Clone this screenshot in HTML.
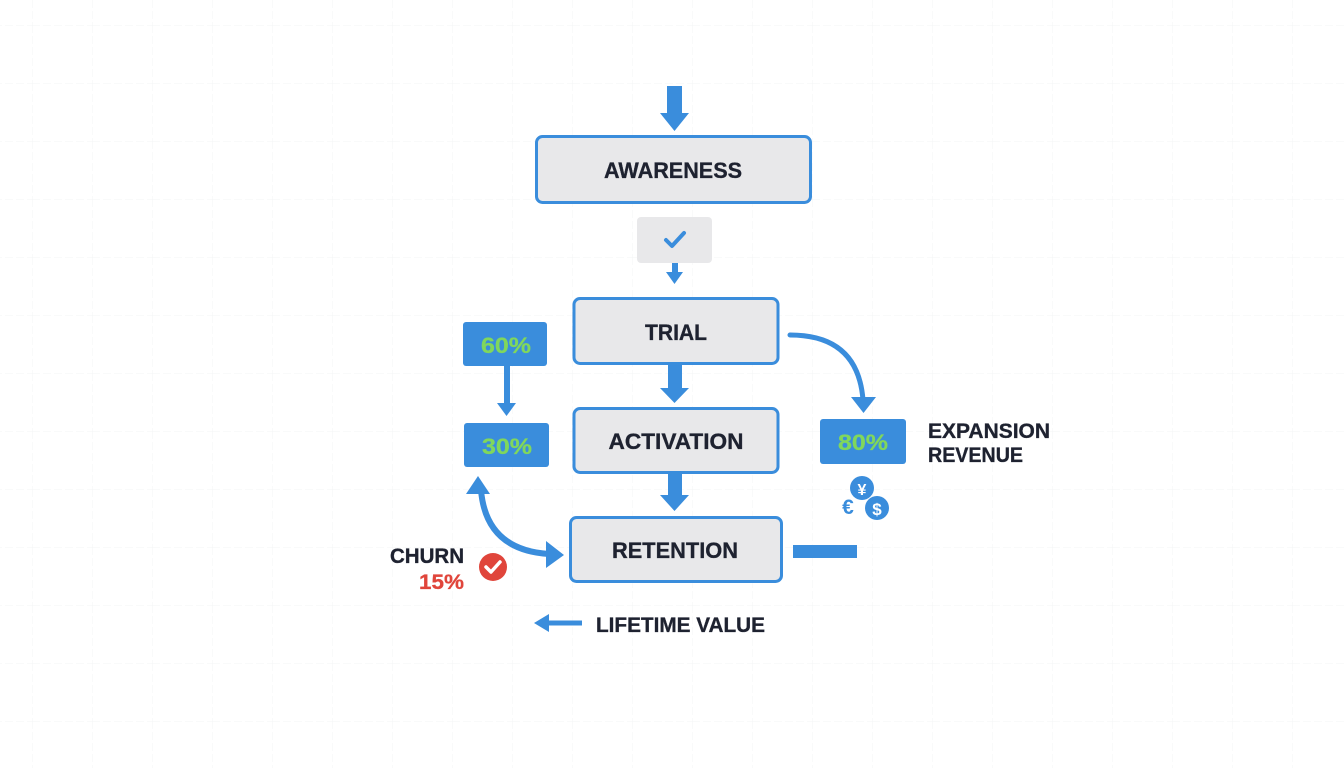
<!DOCTYPE html>
<html>
<head>
<meta charset="utf-8">
<style>
  html,body{margin:0;padding:0;background:#ffffff;}
  body{width:1344px;height:768px;overflow:hidden;}
  svg{display:block;}
  text{font-family:"Liberation Sans", sans-serif;font-weight:bold;}
  .lbl{stroke:#1e2230;stroke-width:0.35;}
</style>
</head>
<body>
<svg width="1344" height="768" viewBox="0 0 1344 768" xmlns="http://www.w3.org/2000/svg">
  <defs>
    <pattern id="grid" width="60" height="58" patternUnits="userSpaceOnUse" x="32" y="25">
      <path d="M0 0 H60 M0 0 V58" stroke="#f3f4f6" stroke-width="1" fill="none" stroke-dasharray="8 3"/>
    </pattern>
  </defs>
  <rect width="1344" height="768" fill="#ffffff"/>
  <rect width="1344" height="768" fill="url(#grid)"/>

  <!-- top arrow -->
  <rect x="667" y="86" width="15" height="28" fill="#3a8ddc"/>
  <polygon points="660,113 689,113 674.5,131" fill="#3a8ddc"/>

  <!-- AWARENESS -->
  <rect x="536.5" y="136.5" width="274" height="66" rx="6" fill="#e8e8ea" stroke="#3a8ddc" stroke-width="3"/>
  <text class="lbl" x="673" y="178" font-size="22.5" fill="#1e2230" text-anchor="middle" textLength="138" lengthAdjust="spacingAndGlyphs">AWARENESS</text>

  <!-- check box -->
  <rect x="637" y="217" width="75" height="46" rx="4" fill="#e8e8ea"/>
  <polyline points="666,240 672,246 684,233" fill="none" stroke="#3a8ddc" stroke-width="4" stroke-linecap="round" stroke-linejoin="round"/>

  <!-- small arrow -->
  <rect x="672" y="263" width="6" height="10" fill="#3a8ddc"/>
  <polygon points="666,272 683,272 674.5,284" fill="#3a8ddc"/>

  <!-- TRIAL -->
  <rect x="574" y="298.5" width="204" height="65" rx="6" fill="#e8e8ea" stroke="#3a8ddc" stroke-width="3"/>
  <text class="lbl" x="676" y="340" font-size="22.5" fill="#1e2230" text-anchor="middle" textLength="62" lengthAdjust="spacingAndGlyphs">TRIAL</text>

  <!-- trial -> activation -->
  <rect x="668" y="364" width="14" height="25" fill="#3a8ddc"/>
  <polygon points="660,388 689,388 674.5,403" fill="#3a8ddc"/>

  <!-- ACTIVATION -->
  <rect x="574" y="408.5" width="204" height="64" rx="6" fill="#e8e8ea" stroke="#3a8ddc" stroke-width="3"/>
  <text class="lbl" x="676" y="449" font-size="22.5" fill="#1e2230" text-anchor="middle" textLength="135" lengthAdjust="spacingAndGlyphs">ACTIVATION</text>

  <!-- activation -> retention -->
  <rect x="668" y="473" width="14" height="23" fill="#3a8ddc"/>
  <polygon points="660,495 689,495 674.5,511" fill="#3a8ddc"/>

  <!-- RETENTION -->
  <rect x="570.5" y="517.5" width="211" height="64" rx="6" fill="#e8e8ea" stroke="#3a8ddc" stroke-width="3"/>
  <text class="lbl" x="675" y="558" font-size="22.5" fill="#1e2230" text-anchor="middle" textLength="126" lengthAdjust="spacingAndGlyphs">RETENTION</text>

  <!-- 60% -->
  <rect x="463" y="322" width="84" height="44" rx="3" fill="#3a8ddc"/>
  <text x="506" y="353" font-size="22.5" fill="#80d75c" stroke="#80d75c" stroke-width="0.3" text-anchor="middle" textLength="50" lengthAdjust="spacingAndGlyphs">60%</text>
  <rect x="504" y="366" width="6" height="38" fill="#3a8ddc"/>
  <polygon points="497,403 516,403 506.5,416" fill="#3a8ddc"/>

  <!-- 30% -->
  <rect x="464" y="423" width="85" height="44" rx="3" fill="#3a8ddc"/>
  <text x="507" y="454" font-size="22.5" fill="#80d75c" stroke="#80d75c" stroke-width="0.3" text-anchor="middle" textLength="50" lengthAdjust="spacingAndGlyphs">30%</text>

  <!-- curved arrow trial -> 80% -->
  <path d="M790 335 Q858 335 863 400" fill="none" stroke="#3a8ddc" stroke-width="5" stroke-linecap="round"/>
  <polygon points="851,397 876,397 863.5,413" fill="#3a8ddc"/>

  <!-- 80% -->
  <rect x="820" y="419" width="86" height="45" rx="3" fill="#3a8ddc"/>
  <text x="863" y="450" font-size="22.5" fill="#80d75c" stroke="#80d75c" stroke-width="0.3" text-anchor="middle" textLength="50" lengthAdjust="spacingAndGlyphs">80%</text>

  <!-- EXPANSION REVENUE -->
  <text class="lbl" x="928" y="438" font-size="21.5" fill="#1e2230" textLength="122" lengthAdjust="spacingAndGlyphs">EXPANSION</text>
  <text class="lbl" x="928" y="462" font-size="21.5" fill="#1e2230" textLength="95" lengthAdjust="spacingAndGlyphs">REVENUE</text>

  <!-- coins -->
  <circle cx="862" cy="488" r="12" fill="#3a8ddc"/>
  <text x="862" y="495" font-size="16" fill="#ffffff" text-anchor="middle">¥</text>
  <circle cx="877" cy="508" r="12" fill="#3a8ddc"/>
  <text x="877" y="515" font-size="17" fill="#ffffff" text-anchor="middle">$</text>
  <text x="848" y="514" font-size="21" fill="#3a8ddc" text-anchor="middle">€</text>

  <!-- blue bar right of retention -->
  <rect x="793" y="545" width="64" height="13" fill="#3a8ddc"/>

  <!-- curved double arrow 30% <-> retention -->
  <path d="M481 490 Q486 550 549 554" fill="none" stroke="#3a8ddc" stroke-width="6"/>
  <polygon points="478,476 466,494 490,494" fill="#3a8ddc"/>
  <polygon points="564,555 546,541 546,568" fill="#3a8ddc"/>

  <!-- CHURN -->
  <text class="lbl" x="464" y="563" font-size="21.5" fill="#1e2230" text-anchor="end" textLength="74" lengthAdjust="spacingAndGlyphs">CHURN</text>
  <text x="464" y="589" font-size="21.5" fill="#e0453b" stroke="#e0453b" stroke-width="0.3" text-anchor="end" textLength="45" lengthAdjust="spacingAndGlyphs">15%</text>
  <circle cx="493" cy="567" r="14" fill="#e0453b"/>
  <polyline points="486,567 491,572 500,562" fill="none" stroke="#ffffff" stroke-width="3.5" stroke-linecap="round" stroke-linejoin="round"/>

  <!-- lifetime value -->
  <rect x="546" y="620.5" width="36" height="5" fill="#3a8ddc"/>
  <polygon points="534,623 549,614 549,632" fill="#3a8ddc"/>
  <text class="lbl" x="596" y="632" font-size="21.5" fill="#1e2230" textLength="169" lengthAdjust="spacingAndGlyphs">LIFETIME VALUE</text>
</svg>
</body>
</html>
